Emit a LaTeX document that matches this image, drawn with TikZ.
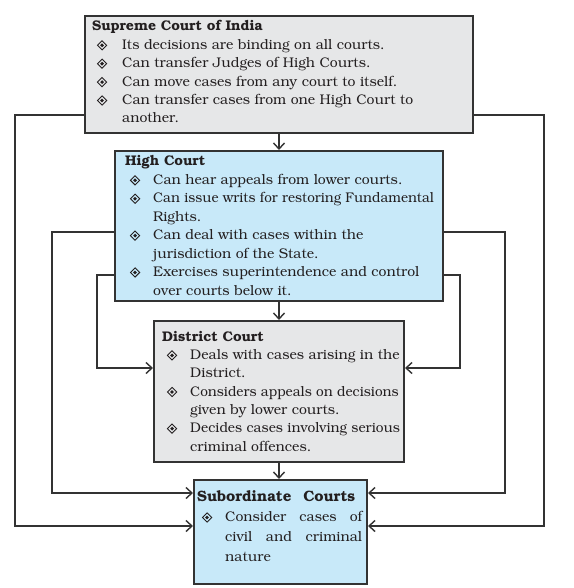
\documentclass[tikz,border=0pt]{standalone}
\usepackage[T1]{fontenc}
\usepackage{bookman}
\usepackage{graphicx}
\usetikzlibrary{arrows.meta}
\definecolor{edge}{HTML}{333333}
\definecolor{txt}{HTML}{231F20}
\definecolor{grayfill}{HTML}{E6E7E8}
\definecolor{bluefill}{HTML}{C8E9F9}
\newlength{\myind}
\newcommand{\dbul}{\tikz[x=1pt,y=1pt,baseline={(0,0)}]{\draw[line width=0.9pt,txt] (0,-0.5)--(4.6,4.1)--(0,8.7)--(-4.6,4.1)--cycle; \fill[txt] (0,2.2)--(1.9,4.1)--(0,6)--(-1.9,4.1)--cycle;}}
\newcommand{\myb}{\makebox[\myind][l]{\hspace*{4.8pt}\dbul}}
\newcommand{\myc}{\hspace*{\myind}}
\newcommand{\sq}[2]{\scalebox{#1}[1]{#2}}
\tikzset{
  box/.style={draw=edge, line width=2pt, anchor=north west, inner sep=0pt},
  txtnode/.style={anchor=base west, inner sep=0pt, align=left, text=txt},
  arr/.style={draw=edge, line width=1.7pt, -{Straight Barb[length=6pt,width=11pt,line width=1.4pt]}},
  link/.style={draw=edge, line width=1.7pt}
}
\begin{document}
\begin{tikzpicture}[x=1pt,y=-1pt]
\useasboundingbox[fill=white] (0,0) rectangle (573,588);
% boxes
\node[box, fill=grayfill, minimum width=388pt, minimum height=117pt] (sc) at (84,15) {};
\node[box, fill=bluefill, minimum width=328pt, minimum height=150pt] (hc) at (114,150) {};
\node[box, fill=grayfill, minimum width=250pt, minimum height=141pt] (dc) at (153,320) {};
\node[box, fill=bluefill, minimum width=173pt, minimum height=104pt] (sub) at (193,479) {};
% texts (anchored at the baseline of their last line)
\node[txtnode, font=\fontsize{14}{18.4}\selectfont\setlength{\myind}{30pt}] (sct) at (92,123) {%
\textbf{Supreme Court of India}\\
\myb Its decisions are binding on all courts.\\
\myb Can transfer Judges of High Courts.\\
\myb Can move cases from any court to itself.\\
\myb Can transfer cases from one High Court to\\
\myc another.};
\node[txtnode, font=\fontsize{14}{18.43}\selectfont\setlength{\myind}{28pt}] (hct) at (125,295) {%
\textbf{High Court}\\
\myb Can hear appeals from lower courts.\\
\myb \sq{0.965}{Can issue writs for restoring Fundamental}\\
\myc Rights.\\
\myb Can deal with cases within the\\
\myc jurisdiction of the State.\\
\myb Exercises superintendence and control\\
\myc over courts below it.};
\node[txtnode, font=\fontsize{14}{18.3}\selectfont\setlength{\myind}{28pt}] (dct) at (162,451) {%
\textbf{District Court}\\
\myb Deals with cases arising in the\\
\myc District.\\
\myb \sq{0.972}{Considers appeals on decisions}\\
\myc given by lower courts.\\
\myb \sq{0.978}{Decides cases involving serious}\\
\myc criminal offences.};
\node[txtnode, font=\fontsize{14}{19.7}\selectfont\setlength{\myind}{28pt}] (subt) at (197,561) {%
\makebox[158pt][s]{\fontsize{15}{19.7}\selectfont\bfseries Subordinate Courts}\\
\myb\makebox[137pt][s]{Consider cases of}\\
\myc\makebox[137pt][s]{civil and criminal}\\
\myc nature};
% vertical arrows
\draw[arr] (sc.south) -- (hc.north);
\draw[arr] (hc.south) -- (dc.north);
\draw[arr] (dc.south) -- (dc.south |- sub.north);
% side connectors
\draw[arr] ([yshift=19pt]sc.south west) -- ++(-69,0) |- ([yshift=59pt]sub.south west);
\draw[arr] ([yshift=19pt]sc.south east) -- ++(70,0) |- ([yshift=59pt]sub.south east);
\draw[arr] ([yshift=70pt]hc.south west) -- ++(-62,0) |- ([yshift=92pt]sub.south west);
\draw[arr] ([yshift=70pt]hc.south east) -- ++(61,0) |- ([yshift=92pt]sub.south east);
\draw[arr] ([yshift=27pt]hc.south west) -- ++(-17,0) |- ([yshift=95pt]dc.south west);
\draw[arr] ([yshift=27pt]hc.south east) -- ++(16,0) |- ([yshift=95pt]dc.south east);
\end{tikzpicture}
\end{document}
